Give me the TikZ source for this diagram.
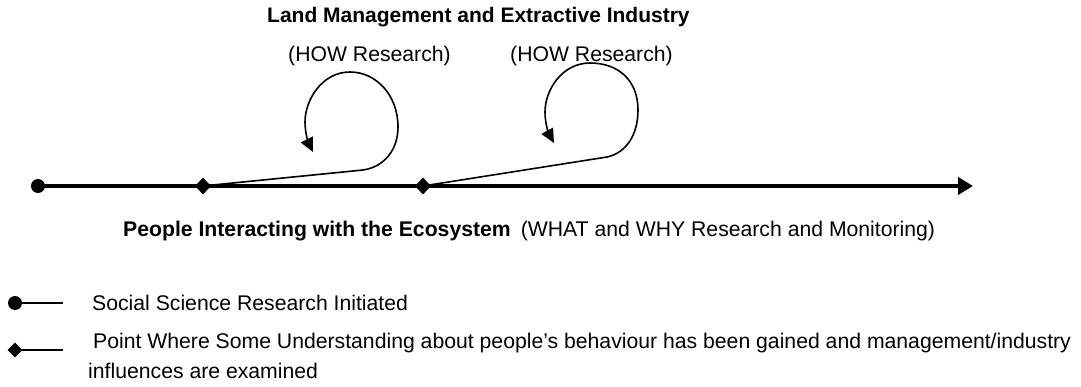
\documentclass[tikz,border=0pt]{standalone}
\usepackage{fontspec}
\setmainfont{Liberation Sans}
\usetikzlibrary{arrows.meta,shapes.geometric}
\tikzset{
  txt/.style={anchor=base west, inner sep=0pt, font=\fontsize{21.2}{25}\selectfont},
  dot/.style={circle, fill=black, draw=none, inner sep=0pt, minimum size=14pt},
  dmd/.style={diamond, fill=black, draw=none, inner sep=0pt, minimum width=16pt, minimum height=17pt},
  ldmd/.style={diamond, fill=black, draw=none, inner sep=0pt, minimum width=15pt, minimum height=15pt},
  mainline/.style={line width=4.5pt, -{Triangle[length=15pt,width=17pt]}},
  loopline/.style={line width=1.6pt, -{Triangle[length=14pt,width=13pt]}},
  legline/.style={line width=2pt}
}
\begin{document}
\begin{tikzpicture}[x=1pt,y=-1pt]
\useasboundingbox (0,0) rectangle (1081,387);
% texts
\node[txt, font=\fontsize{21}{25}\selectfont\bfseries] (title) at (267,23) {Land Management and Extractive Industry};
\node[txt] (how1) at (288,62) {(HOW Research)};
\node[txt] (how2) at (510,62) {(HOW Research)};
\node[txt] (bottom) at (123,237) {\textbf{People Interacting with the Ecosystem}\hspace{10pt}(WHAT and WHY Research and Monitoring)};
% main timeline
\coordinate (tip) at (973,186);
\node[dot] (start) at (38,186) {};
\draw[mainline] (start.center) -- (tip);
\node[dmd] (d1) at (203,186) {};
\node[dmd] (d2) at (423,186) {};
% loops
\coordinate (a1) at (313,152);
\coordinate (a2) at (554,143);
\draw[loopline] (d1.center) -- (363,170)
  .. controls (384,167) and (398,150) .. (398,127)
  .. controls (398,95) and (376,72) .. (350,72)
  .. controls (322,72) and (305,100) .. (305,122)
  .. controls (305,134) and (309,144) .. (a1);
\draw[loopline] (d2.center) -- (607,157)
  .. controls (626,153) and (638,135) .. (638,110)
  .. controls (638,80) and (618,63) .. (590,63)
  .. controls (562,63) and (545,90) .. (545,112)
  .. controls (545,124) and (549,134) .. (a2);
% legend
\node[dot] (ldot) at (15,303) {};
\coordinate (lend1) at (63,303);
\draw[legline] (ldot.center) -- (lend1);
\node[ldmd] (ldmd) at (15,350) {};
\coordinate (lend2) at (63,350);
\draw[legline] (ldmd.center) -- (lend2);
\node[txt] (leg1) at (92,310) {Social Science Research Initiated};
\node[txt] (leg2) at (93,348) {Point Where Some Understanding about people’s behaviour has been gained and management/industry};
\node[txt] (leg3) at (88,378) {influences are examined};
\end{tikzpicture}
\end{document}
